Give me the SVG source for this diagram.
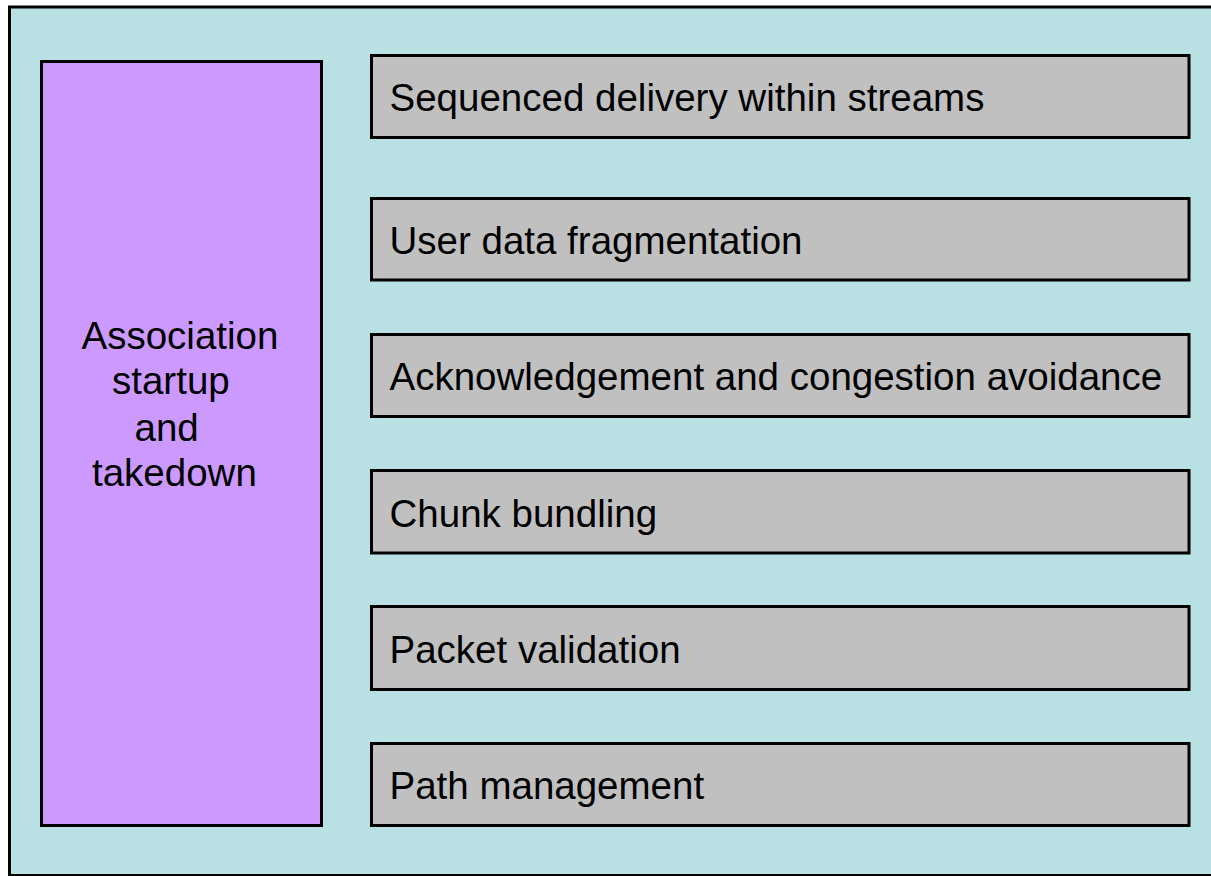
<svg xmlns="http://www.w3.org/2000/svg" width="1211" height="876" viewBox="0 0 1211 876">
<style>
.box{fill:#C0C0C0;stroke:#000;stroke-width:3}
.lbl{font-family:"Liberation Sans",Arial,sans-serif;font-size:38.5px;fill:#000}
</style>
<rect x="0" y="0" width="1211" height="876" fill="#fff"/>
<g id="frame">
<rect x="9.5" y="7" width="1215" height="868.5" fill="#B9E0E3" stroke="#000" stroke-width="3"/>
</g>
<g id="assoc">
<rect x="41.5" y="61.5" width="280" height="764" fill="#CC99FF" stroke="#000" stroke-width="3"/>
<text class="lbl" x="81.5" y="349">Association</text>
<text class="lbl" x="112" y="394">startup</text>
<text class="lbl" x="134.5" y="440.5">and</text>
<text class="lbl" x="92" y="486">takedown</text>
</g>
<g id="n1"><rect class="box" x="371.5" y="55.5" width="817.5" height="82"/><text class="lbl" x="389.5" y="111">Sequenced delivery within streams</text></g>
<g id="n2"><rect class="box" x="371.5" y="198.5" width="817.5" height="81.5"/><text class="lbl" x="389.5" y="254">User data fragmentation</text></g>
<g id="n3"><rect class="box" x="371.5" y="334.5" width="817.5" height="82"/><text class="lbl" x="389.5" y="390">Acknowledgement and congestion avoidance</text></g>
<g id="n4"><rect class="box" x="371.5" y="470.5" width="817.5" height="82.5"/><text class="lbl" x="389.5" y="526.5">Chunk bundling</text></g>
<g id="n5"><rect class="box" x="371.5" y="606.5" width="817.5" height="83"/><text class="lbl" x="389.5" y="663">Packet validation</text></g>
<g id="n6"><rect class="box" x="371.5" y="743.5" width="817.5" height="82"/><text class="lbl" x="389.5" y="799">Path management</text></g>
<g id="connectors"/>
</svg>
